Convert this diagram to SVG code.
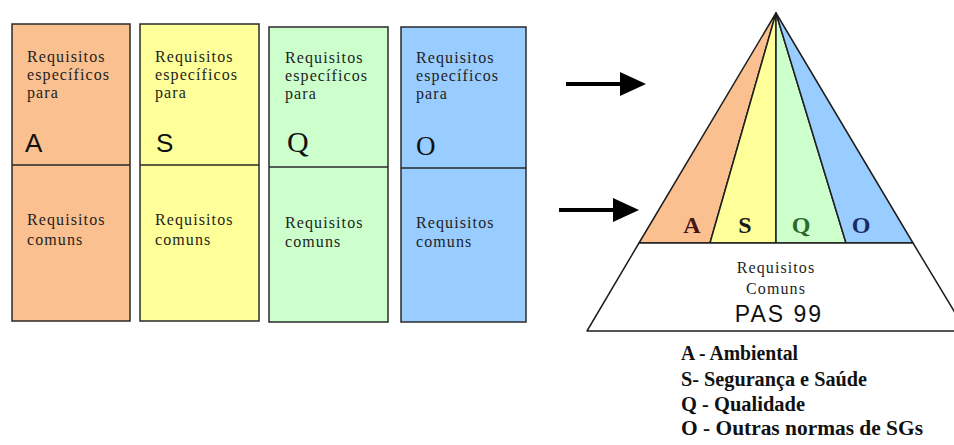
<svg xmlns="http://www.w3.org/2000/svg" width="954" height="445" viewBox="0 0 954 445">
<style>
.box{stroke:#2a2a2a;stroke-width:1.5}
.t{font-family:"Liberation Serif","Times New Roman",serif;font-size:16px;letter-spacing:1.1px;fill:#1e1e1e}
.big{font-family:"Liberation Sans",Arial,sans-serif;font-size:26px;fill:#111}
.bigs{font-family:"Liberation Serif","Times New Roman",serif;font-size:30px;fill:#111}
.py{stroke:#1e1e1e;stroke-width:1.5;stroke-linejoin:round}
.pl{font-family:"Liberation Serif","Times New Roman",serif;font-size:24px;font-weight:bold;text-anchor:middle}
.lg{font-family:"Liberation Serif","Times New Roman",serif;font-size:20px;font-weight:bold;fill:#111}
.arr{stroke:#000;stroke-width:4}
</style>
<defs>
<marker id="ah" markerUnits="userSpaceOnUse" markerWidth="27" markerHeight="25" refX="0" refY="12.5" orient="auto">
<path d="M0,0.5 L26,12.5 L0,24.5 z" fill="#000"/>
</marker>
</defs>
<rect width="954" height="445" fill="#fff"/>

<g id="box-A">
<rect class="box" x="12" y="24" width="118" height="297" fill="#FAC090"/>
<line class="box" x1="12" y1="165" x2="130" y2="165"/>
<text class="t" x="27" y="62">Requisitos</text>
<text class="t" x="27" y="80">específicos</text>
<text class="t" x="27" y="98">para</text>
<text class="big" x="25" y="152">A</text>
<text class="t" x="27" y="225">Requisitos</text>
<text class="t" x="27" y="245">comuns</text>
</g>

<g id="box-S">
<rect class="box" x="140" y="24" width="119" height="297" fill="#FFFF99"/>
<line class="box" x1="140" y1="165" x2="259" y2="165"/>
<text class="t" x="155" y="62">Requisitos</text>
<text class="t" x="155" y="80">específicos</text>
<text class="t" x="155" y="98">para</text>
<text class="big" x="156" y="152">S</text>
<text class="t" x="155" y="225">Requisitos</text>
<text class="t" x="155" y="245">comuns</text>
</g>

<g id="box-Q">
<rect class="box" x="269" y="27" width="119" height="295" fill="#CCFFCC"/>
<line class="box" x1="269" y1="167" x2="388" y2="167"/>
<text class="t" x="285" y="63">Requisitos</text>
<text class="t" x="285" y="81">específicos</text>
<text class="t" x="285" y="99">para</text>
<text class="bigs" x="287" y="152">Q</text>
<text class="t" x="285" y="228">Requisitos</text>
<text class="t" x="285" y="247">comuns</text>
</g>

<g id="box-O">
<rect class="box" x="401" y="27" width="125" height="295" fill="#99CCFF"/>
<line class="box" x1="401" y1="168" x2="526" y2="168"/>
<text class="t" x="416" y="63">Requisitos</text>
<text class="t" x="416" y="81">específicos</text>
<text class="t" x="416" y="99">para</text>
<text class="bigs" x="416" y="155" style="font-size:27px">O</text>
<text class="t" x="416" y="228">Requisitos</text>
<text class="t" x="416" y="247">comuns</text>
</g>

<g id="connectors">
<line class="arr" x1="566" y1="84" x2="620" y2="84" marker-end="url(#ah)"/>
<line class="arr" x1="559" y1="210" x2="613" y2="210" marker-end="url(#ah)"/>
</g>

<g id="pyramid">
<polygon class="py" points="776,13 639,243 710,243" fill="#FAC090"/>
<polygon class="py" points="776,13 710,243 776,243" fill="#FFFF99"/>
<polygon class="py" points="776,13 776,243 846,243" fill="#CCFFCC"/>
<polygon class="py" points="776,13 846,243 913,243" fill="#99CCFF"/>
<polygon class="py" points="639,243 913,243 966,331 587,331" fill="#fff"/>
<text class="pl" x="692" y="233" fill="#4a1410">A</text>
<text class="pl" x="745" y="233" fill="#1a1a1a">S</text>
<text class="pl" x="801" y="233" fill="#2c6a2c">Q</text>
<text class="pl" x="861" y="233" fill="#172a66">O</text>
<text class="t" x="776" y="273" text-anchor="middle">Requisitos</text>
<text class="t" x="776" y="294" text-anchor="middle">Comuns</text>
<text x="779" y="322" text-anchor="middle" font-family="Liberation Sans,Arial,sans-serif" font-size="23" letter-spacing="2" fill="#111">PAS 99</text>
</g>

<g id="legend">
<text class="lg" x="681" y="360" textLength="117" lengthAdjust="spacingAndGlyphs">A - Ambiental</text>
<text class="lg" x="681" y="386" textLength="186" lengthAdjust="spacingAndGlyphs">S- Segurança e Saúde</text>
<text class="lg" x="681" y="411" textLength="124" lengthAdjust="spacingAndGlyphs">Q - Qualidade</text>
<text class="lg" x="681" y="435" textLength="242" lengthAdjust="spacingAndGlyphs">O - Outras normas de SGs</text>
</g>
</svg>
